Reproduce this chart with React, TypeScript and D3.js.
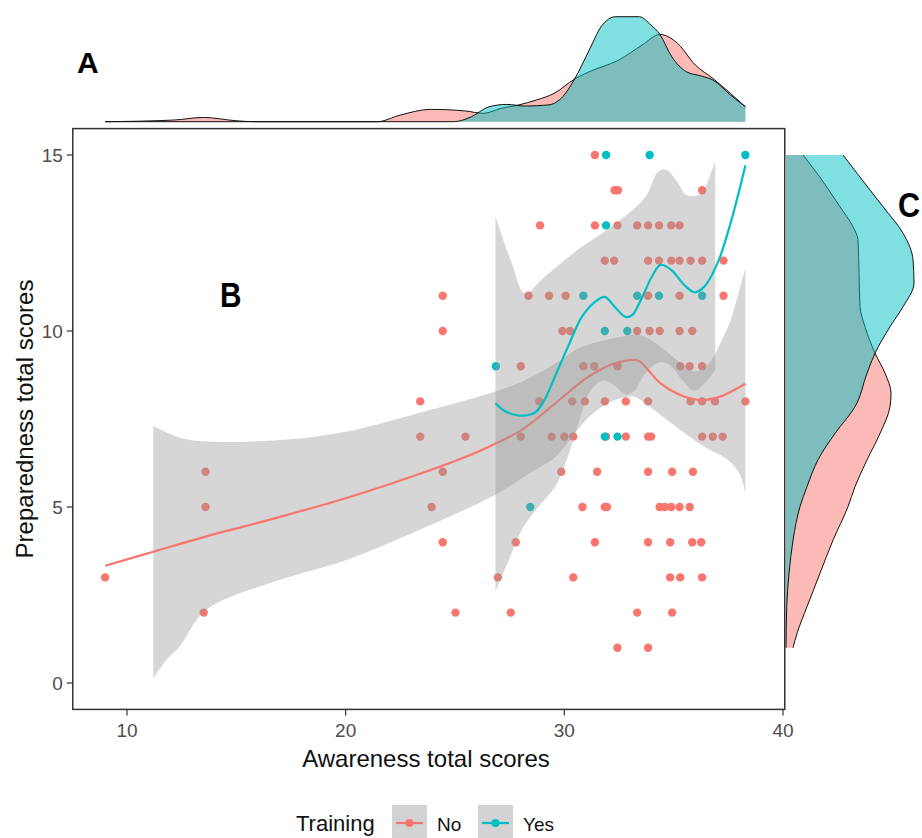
import * as d3 from 'd3';

// scatter data: awareness scores of each respondent, grouped by preparedness score
const prepLevels = [15, 14, 13, 12, 11, 10, 9, 8, 7, 6, 5, 4, 3, 2, 1];
const noAwareness = [
  [31.4],
  [32.3, 32.45, 36.3],
  [28.89, 31.4, 32.43, 33.33, 33.83, 34.33, 34.89, 35.27],
  [31.85, 32.28, 33.83, 34.33, 34.89, 35.27, 35.77, 36.3, 37.28],
  [24.44, 28.36, 29.3, 30.06, 33.83, 35.27, 37.28],
  [24.44, 29.91, 30.26, 33.33, 33.9, 34.36, 35.27, 35.85],
  [28.01, 30.87, 31.37, 32.43, 35.3, 35.73, 36.3],
  [23.41, 28.85, 30.36, 30.94, 31.85, 32.81, 33.83, 35.77, 36.3, 36.89, 38.28],
  [23.41, 25.48, 28.01, 29.42, 30.0, 30.41, 31.91, 32.81, 33.83, 33.97, 36.3, 36.79, 37.24],
  [13.59, 24.44, 29.86, 31.5, 33.83, 34.93, 35.88],
  [13.59, 23.93, 30.83, 31.85, 31.95, 34.36, 34.59, 34.89, 35.27, 35.73],
  [24.44, 27.78, 31.4, 33.83, 34.84, 35.85, 36.26],
  [9.0, 26.96, 30.41, 34.84, 35.3, 36.3],
  [13.51, 25.02, 27.55, 33.33, 34.93],
  [32.43, 33.83]
];
const yesAwareness = [
  [31.91, 33.9, 38.28],
  [],
  [31.91],
  [],
  [30.87, 33.33, 34.33, 36.3],
  [31.85, 32.88],
  [26.87],
  [],
  [31.85, 32.43],
  [],
  [28.44],
  [],
  [],
  [],
  []
];

// loess fits and confidence bands: [awareness, preparedness]
const noFit = [
  [9.0, 3.33], [11.2, 3.73], [13.6, 4.16], [17.0, 4.72], [20.0, 5.25], [23.0, 5.86],
  [25.5, 6.43], [26.5, 6.7], [28.05, 7.19], [29.5, 7.9], [31.1, 8.7], [32.3, 9.08],
  [33.37, 9.16], [33.83, 8.89], [34.4, 8.51], [35.3, 8.18], [36.2, 8.04], [37.1, 8.13],
  [37.6, 8.27], [38.28, 8.5]
];
const noUpper = [
  [11.2, 7.3], [12.5, 6.95], [13.6, 6.86], [17.0, 6.9], [20.0, 7.14], [23.0, 7.61],
  [26.85, 8.28], [28.05, 8.56], [29.6, 9.08], [30.8, 9.55], [31.85, 9.74], [32.6, 9.84],
  [33.3, 9.9], [33.8, 9.8], [34.4, 9.55], [35.0, 9.25], [35.5, 9.0], [35.95, 8.85],
  [36.4, 8.95], [36.85, 9.3], [37.2, 9.74], [37.6, 10.3], [38.28, 11.8]
];
const noLower = [
  [11.2, 0.13], [11.8, 0.65], [12.4, 1.03], [13.6, 2.07], [17.0, 2.93], [20.0, 3.49],
  [23.0, 4.25], [26.85, 5.35], [28.4, 5.96], [29.6, 6.43], [30.5, 7.1], [31.1, 7.55],
  [31.85, 7.9], [32.6, 8.1], [33.2, 8.13], [33.8, 7.9], [34.9, 7.38], [36.4, 6.71],
  [37.5, 6.33], [38.0, 5.96], [38.28, 5.4]
];
const yesFit = [
  [26.85, 7.95], [27.3, 7.72], [27.9, 7.6], [28.4, 7.62], [28.7, 7.7], [29.1, 8.05],
  [29.6, 8.75], [30.2, 9.6], [30.8, 10.4], [31.4, 10.83], [31.85, 10.97], [32.3, 10.69],
  [32.8, 10.4], [33.1, 10.45], [33.5, 10.88], [34.0, 11.54], [34.4, 11.88], [34.9, 11.73],
  [35.5, 11.3], [35.95, 11.1], [36.4, 11.26], [37.0, 11.92], [37.6, 13.06], [38.28, 14.7]
];
const yesUpper = [
  [26.85, 13.25], [27.6, 11.92], [28.2, 11.07], [29.1, 11.54], [30.6, 12.3], [32.15, 12.96],
  [33.7, 13.8], [34.3, 14.53], [34.7, 14.57], [35.2, 14.2], [35.6, 13.86], [36.25, 13.9],
  [36.7, 14.48], [36.9, 14.8]
];
const yesLower = [
  [26.85, 2.6], [27.4, 3.4], [28.05, 4.35], [28.8, 5.0], [29.6, 5.6], [30.2, 6.5],
  [30.7, 7.5], [31.2, 8.3], [31.8, 8.6], [32.3, 8.45], [32.8, 8.2], [33.2, 8.3],
  [33.7, 8.8], [34.3, 9.1], [34.8, 9.05], [35.4, 8.6], [35.95, 8.3], [36.4, 8.5], [36.9, 8.9]
];

// marginal densities
const topNoDensity = [
  [9.0, 0], [12.16, 0.0024], [13.5, 0.0061], [14.98, 0.0014], [15.8, 0], [21.44, 0],
  [22.5, 0.0095], [23.87, 0.0176], [25.49, 0.0153], [26.29, 0.0119], [27.1, 0.019],
  [27.91, 0.0239], [28.72, 0.031], [29.53, 0.0404], [30.47, 0.061], [31.14, 0.0714],
  [32.49, 0.0881], [33.56, 0.1096], [34.37, 0.1247], [35.18, 0.1119], [35.99, 0.081],
  [36.79, 0.0619], [37.6, 0.0404], [38.28, 0.0214]
];
const topYesDensity = [
  [9.0, 0], [24.94, 0], [25.75, 0.0071], [26.56, 0.0214], [27.37, 0.0247], [28.18, 0.0224],
  [29.25, 0.0239], [29.93, 0.0357], [30.47, 0.061], [31.14, 0.1024], [31.68, 0.1357],
  [32.35, 0.15], [33.43, 0.15], [33.96, 0.1381], [34.37, 0.1247], [34.91, 0.0929],
  [35.58, 0.0714], [36.26, 0.0653], [36.79, 0.0596], [37.6, 0.0381], [38.28, 0.0214]
];
const rightNoDensity = [
  [15, 0.0213], [14.48, 0.0388], [13.53, 0.0675], [12.96, 0.0838], [12.59, 0.09],
  [11.64, 0.0913], [10.69, 0.0925], [10.12, 0.0988], [9.37, 0.1113], [8.8, 0.1238],
  [8.23, 0.1313], [7.85, 0.13], [7.09, 0.1175], [6.34, 0.1013], [5.58, 0.0863],
  [5.01, 0.0775], [4.06, 0.0588], [3.12, 0.0425], [2.17, 0.0263], [1.41, 0.0138], [1.0, 0.0088]
];
const rightYesDensity = [
  [15, 0.0713], [14.48, 0.0888], [13.53, 0.1213], [12.78, 0.1463], [12.02, 0.1588],
  [11.36, 0.16], [10.69, 0.1463], [10.12, 0.13], [9.37, 0.1113], [8.8, 0.1013],
  [7.85, 0.0863], [7.09, 0.0613], [6.34, 0.04], [5.58, 0.0263], [5.01, 0.0175],
  [4.06, 0.0088], [3.12, 0.0038], [2.17, 0.0009], [1.0, 0]
];

const xTicks = [10, 20, 30, 40];
const yTicks = [0, 5, 10, 15];
const groups = ['No', 'Yes'];

const NO_COLOR = '#F8766D';
const YES_COLOR = '#00BFC4';
const FONT = '"Liberation Sans", Arial, sans-serif';

export default function App() {
  const W = 922;
  const H = 838;

  // Scales
  const x = d3.scaleLinear().domain([10, 40]).range([127, 783]);
  const y = d3.scaleLinear().domain([0, 15]).range([683, 155]);
  const yTop = d3.scaleLinear().domain([0, 0.15]).range([121.7, 16.7]);
  const xRight = d3.scaleLinear().domain([0, 0.16]).range([786, 914]);

  const panel = { left: x(7.52), right: x(40.08), top: y(15.75), bottom: y(-0.75) };

  const smooth = d3
    .line<number[]>()
    .x((d) => x(d[0]))
    .y((d) => y(d[1]))
    .curve(d3.curveCatmullRom.alpha(0.5));

  const band = (upper: number[][], lower: number[][]) =>
    smooth(upper) + smooth([...lower].reverse())!.replace(/^M/, 'L') + 'Z';

  const topArea = d3
    .area<number[]>()
    .x((d) => x(d[0]))
    .y0(yTop(0))
    .y1((d) => yTop(d[1]))
    .curve(d3.curveMonotoneX);
  const topLine = d3
    .line<number[]>()
    .x((d) => x(d[0]))
    .y((d) => yTop(d[1]))
    .curve(d3.curveMonotoneX);

  const rightArea = d3
    .area<number[]>()
    .y((d) => y(d[0]))
    .x0(xRight(0))
    .x1((d) => xRight(d[1]))
    .curve(d3.curveMonotoneY);
  const rightLine = d3
    .line<number[]>()
    .y((d) => y(d[0]))
    .x((d) => xRight(d[1]))
    .curve(d3.curveMonotoneY);

  const points: { a: number; p: number; g: string }[] = [];
  prepLevels.forEach((p, i) => {
    noAwareness[i].forEach((a) => points.push({ a, p, g: 'No' }));
    yesAwareness[i].forEach((a) => points.push({ a, p, g: 'Yes' }));
  });

  const ribbonFill = 'rgba(153,153,153,0.4)';

  return (
    <div style={{ position: 'absolute', left: 0, top: 0 }}>
      <svg width={W} height={H} viewBox={`0 0 ${W} ${H}`} style={{ display: 'block', fontFamily: FONT }}>
        <rect width={W} height={H} fill='#fff' />
        <defs>
          <clipPath id='panelClip'>
            <rect x={panel.left} y={panel.top} width={panel.right - panel.left} height={panel.bottom - panel.top} />
          </clipPath>
        </defs>

        {/* top marginal density */}
        <path d={topArea(topNoDensity)!} fill={NO_COLOR} fillOpacity={0.5} />
        <path d={topLine(topNoDensity)!} fill='none' stroke='#111' strokeWidth={1} />
        <path d={topArea(topYesDensity)!} fill={YES_COLOR} fillOpacity={0.5} />
        <path d={topLine(topYesDensity)!} fill='none' stroke='#111' strokeWidth={1} />

        {/* right marginal density */}
        <path d={rightArea(rightNoDensity)!} fill={NO_COLOR} fillOpacity={0.5} />
        <path d={rightLine(rightNoDensity)!} fill='none' stroke='#111' strokeWidth={1} />
        <path d={rightArea(rightYesDensity)!} fill={YES_COLOR} fillOpacity={0.5} />
        <path d={rightLine(rightYesDensity)!} fill='none' stroke='#111' strokeWidth={1} />

        {/* scatter */}
        <g clipPath='url(#panelClip)'>
          {points.map((d, i) => (
            <circle key={i} cx={x(d.a)} cy={y(d.p)} r={4.2} fill={d.g === 'No' ? NO_COLOR : YES_COLOR} />
          ))}
          <path d={band(noUpper, noLower)} fill={ribbonFill} />
          <path d={smooth(noFit)!} fill='none' stroke={NO_COLOR} strokeWidth={2.2} />
          <path d={band(yesUpper, yesLower)} fill={ribbonFill} />
          <path d={smooth(yesFit)!} fill='none' stroke={YES_COLOR} strokeWidth={2.2} />
        </g>

        {/* panel border */}
        <rect
          x={panel.left}
          y={panel.top}
          width={panel.right - panel.left}
          height={panel.bottom - panel.top}
          fill='none'
          stroke='#333'
          strokeWidth={1.5}
        />

        {/* x axis */}
        {xTicks.map((t) => (
          <g key={t} transform={`translate(${x(t)},${panel.bottom})`}>
            <line y2={6} stroke='#333' strokeWidth={1.2} />
            <text y={28} textAnchor='middle' fontSize={19} fill='#4d4d4d'>
              {t}
            </text>
          </g>
        ))}
        <text x={426} y={767} textAnchor='middle' fontSize={24} fill='#111'>
          Awareness total scores
        </text>

        {/* y axis */}
        {yTicks.map((t) => (
          <g key={t} transform={`translate(${panel.left},${y(t)})`}>
            <line x2={-6} stroke='#333' strokeWidth={1.2} />
            <text x={-10} dy='0.35em' textAnchor='end' fontSize={19} fill='#4d4d4d'>
              {t}
            </text>
          </g>
        ))}
        <text
          transform={`translate(33,${(y(0) + y(15)) / 2}) rotate(-90)`}
          textAnchor='middle'
          fontSize={24}
          fill='#111'
        >
          Preparedness total scores
        </text>

        {/* legend */}
        <text x={296} y={831} fontSize={22} fill='#111'>
          Training
        </text>
        {groups.map((g, i) => {
          const kx = 392 + i * 86;
          const color = g === 'No' ? NO_COLOR : YES_COLOR;
          return (
            <g key={g}>
              <rect x={kx} y={805} width={35} height={35} fill='#d3d3d3' />
              <line x1={kx + 4} x2={kx + 31} y1={823} y2={823} stroke={color} strokeWidth={2.2} />
              <circle cx={kx + 17.5} cy={823} r={4} fill={color} />
              <text x={kx + 45} y={831} fontSize={19} fill='#111'>
                {g}
              </text>
            </g>
          );
        })}

        {/* panel letters */}
        <text x={77} y={73} fontSize={30} fontWeight='bold' fill='#000'>
          A
        </text>
        <text transform='translate(220,307) scale(0.85,1)' fontSize={35} fontWeight='bold' fill='#000'>
          B
        </text>
        <text transform='translate(898,217) scale(0.85,1)' fontSize={36} fontWeight='bold' fill='#000'>
          C
        </text>
      </svg>
    </div>
  );
}
